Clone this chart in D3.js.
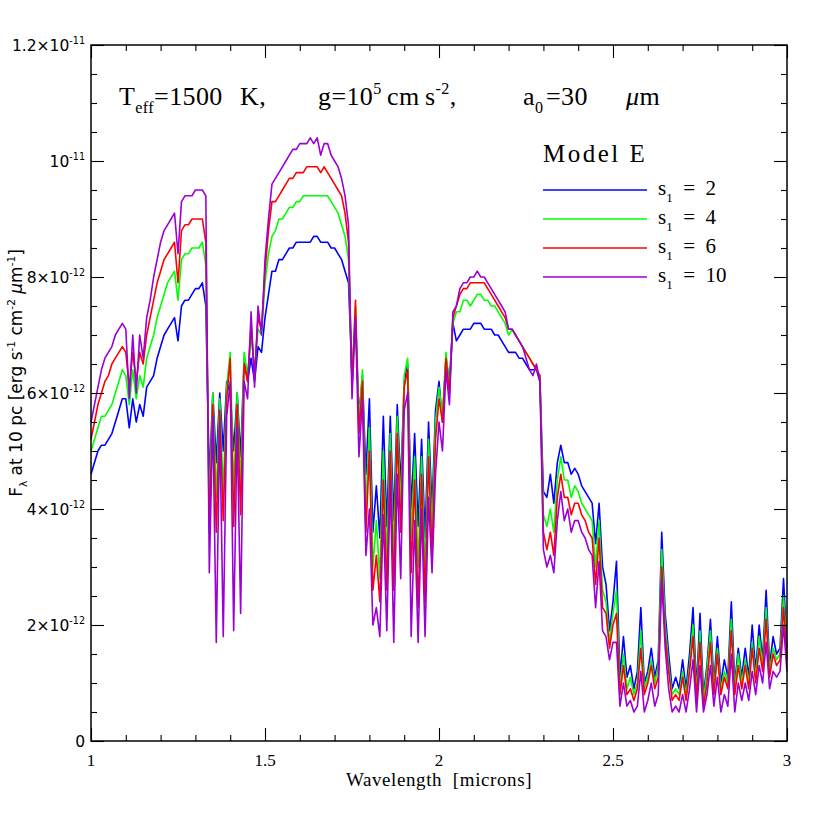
<!DOCTYPE html>
<html>
<head>
<meta charset="utf-8">
<script src="https://cdn.jsdelivr.net/npm/d3@7"></script>
<style>
  body { margin: 0; background: #fff; }
  text { white-space: pre; }
</style>
</head>
<body>
<svg id="chart"></svg>
<script>
// wavelength grid (microns)
let wavelength = [
  1.00,1.01,1.02,1.03,1.04,1.05,1.06,1.07,1.08,1.09,
  1.10,1.11,1.12,1.13,1.14,1.15,1.16,1.17,1.18,1.19,
  1.20,1.21,1.22,1.23,1.24,1.25,1.26,1.27,1.28,1.29,
  1.30,1.31,1.32,1.33,1.34,1.35,1.36,1.37,1.38,1.39,
  1.40,1.41,1.42,1.43,1.44,1.45,1.46,1.47,1.48,1.49,
  1.50,1.51,1.52,1.53,1.54,1.55,1.56,1.57,1.58,1.59,
  1.60,1.61,1.62,1.63,1.64,1.65,1.66,1.67,1.68,1.69,
  1.70,1.71,1.72,1.73,1.74,1.75,1.76,1.77,1.78,1.79,
  1.80,1.81,1.82,1.83,1.84,1.85,1.86,1.87,1.88,1.89,
  1.90,1.91,1.92,1.93,1.94,1.95,1.96,1.97,1.98,1.99,
  2.00,2.01,2.02,2.03,2.04,2.05,2.06,2.07,2.08,2.09,
  2.10,2.11,2.12,2.13,2.14,2.15,2.16,2.17,2.18,2.19,
  2.20,2.21,2.22,2.23,2.24,2.25,2.26,2.27,2.28,2.29,
  2.30,2.31,2.32,2.33,2.34,2.35,2.36,2.37,2.38,2.39,
  2.40,2.41,2.42,2.43,2.44,2.45,2.46,2.47,2.48,2.49,
  2.50,2.51,2.52,2.53,2.54,2.55,2.56,2.57,2.58,2.59,
  2.60,2.61,2.62,2.63,2.64,2.65,2.66,2.67,2.68,2.69,
  2.70,2.71,2.72,2.73,2.74,2.75,2.76,2.77,2.78,2.79,
  2.80,2.81,2.82,2.83,2.84,2.85,2.86,2.87,2.88,2.89,
  2.90,2.91,2.92,2.93,2.94,2.95,2.96,2.97,2.98,2.99,
  3.00
]

// flux, in units of 1e-12 erg s^-1 cm^-2 um^-1
let fluxS2 = [
  4.6,4.8,5.0,5.1,5.1,5.2,5.3,5.5,5.7,5.9,
  5.9,5.4,5.9,5.5,5.8,5.6,6.1,6.2,6.3,6.6,
  6.8,7.0,7.1,7.2,7.3,6.9,7.5,7.6,7.6,7.7,
  7.8,7.8,7.9,7.5,4.5,6.0,4.8,6.0,5.0,6.2,
  6.0,5.0,6.0,4.9,6.6,6.2,6.6,6.2,6.8,6.7,
  7.3,7.7,8.1,8.1,8.3,8.3,8.4,8.5,8.5,8.6,
  8.6,8.6,8.6,8.6,8.7,8.7,8.6,8.6,8.6,8.5,
  8.5,8.4,8.3,8.1,7.9,6.3,7.3,5.6,6.3,4.6,
  5.9,3.6,4.4,3.5,5.6,3.7,5.6,3.8,5.8,4.4,
  6.2,6.5,4.0,5.3,3.7,5.2,3.5,5.5,4.0,5.7,
  6.2,5.5,6.6,6.2,7.2,6.9,7.0,7.1,7.1,7.1,
  7.2,7.2,7.2,7.1,7.1,7.1,7.0,7.0,6.9,6.8,
  6.7,6.7,6.7,6.6,6.6,6.5,6.4,6.4,6.4,6.2,
  4.3,4.2,4.6,4.1,4.8,5.1,4.8,4.8,4.6,4.7,
  4.6,4.4,4.3,4.2,4.1,3.4,4.1,3.0,2.7,1.9,
  2.4,3.1,1.1,1.8,1.1,1.3,0.9,1.2,2.3,1.0,
  1.2,1.6,1.1,1.4,3.6,2.2,1.5,0.9,1.1,0.9,
  1.4,0.9,1.5,2.3,0.9,2.2,0.8,1.3,2.1,1.0,
  1.8,1.0,1.4,1.1,2.4,1.0,1.6,1.1,1.6,1.1,
  2.0,1.2,2.0,1.4,2.6,1.3,1.8,1.5,1.6,2.8,
  1.6
]

let fluxS4 = [
  5.0,5.2,5.4,5.6,5.6,5.7,5.8,6.0,6.2,6.4,
  6.3,5.8,6.4,5.9,6.3,6.1,6.6,6.8,7.0,7.3,
  7.5,7.7,7.9,8.0,8.1,7.6,8.3,8.4,8.4,8.5,
  8.5,8.5,8.6,8.2,4.0,6.0,4.2,5.9,4.3,6.1,
  6.7,4.3,6.0,4.4,6.7,6.3,7.0,6.4,7.1,7.0,
  7.9,8.4,8.7,8.8,9.0,9.0,9.1,9.2,9.2,9.3,
  9.3,9.4,9.4,9.4,9.4,9.4,9.4,9.4,9.4,9.3,
  9.2,9.1,8.9,8.7,8.3,6.2,7.5,5.5,6.4,4.0,
  5.4,3.0,3.8,2.8,5.0,3.1,5.3,3.2,5.6,4.0,
  6.3,6.6,3.5,4.9,3.0,4.9,2.9,5.2,3.6,5.5,
  6.1,5.6,6.7,6.1,7.2,7.4,7.4,7.6,7.6,7.5,
  7.6,7.7,7.7,7.6,7.6,7.5,7.5,7.4,7.3,7.2,
  7.0,7.1,7.0,6.9,6.8,6.7,6.6,6.5,6.4,6.3,
  3.9,3.7,4.0,3.6,4.5,4.9,4.5,4.5,4.2,4.4,
  4.3,4.1,4.0,3.9,3.8,3.0,3.8,2.6,2.4,1.7,
  2.2,2.6,0.9,1.5,0.9,1.1,0.8,1.0,1.9,0.9,
  1.1,1.4,1.0,1.3,3.3,2.0,1.3,0.8,0.9,0.8,
  1.2,0.8,1.3,2.0,0.8,1.9,0.7,1.2,1.9,0.9,
  1.6,0.9,1.2,1.0,2.1,0.9,1.5,1.0,1.4,1.0,
  1.7,1.1,1.8,1.3,2.3,1.2,1.6,1.4,1.5,2.5,
  1.5
]

let fluxS6 = [
  5.2,5.5,5.8,6.0,6.2,6.3,6.5,6.6,6.7,6.8,
  6.7,6.1,6.7,6.2,6.7,6.5,7.0,7.3,7.6,7.9,
  8.1,8.3,8.4,8.5,8.6,7.9,8.8,8.9,8.9,9.0,
  9.0,9.0,9.0,8.6,3.6,5.8,3.6,5.7,3.8,5.9,
  6.6,3.7,5.8,3.9,6.5,6.2,7.2,6.3,7.3,7.1,
  8.1,8.8,9.3,9.3,9.4,9.5,9.6,9.7,9.7,9.8,
  9.8,9.8,9.9,9.9,9.9,9.9,9.8,9.9,9.8,9.7,
  9.6,9.5,9.4,9.1,8.6,6.1,7.6,5.3,6.2,3.6,
  5.0,2.6,3.2,2.4,4.5,2.6,5.0,2.6,5.3,3.6,
  6.1,6.4,2.9,4.5,2.3,4.6,2.4,4.9,3.2,5.2,
  5.9,5.5,6.6,6.0,7.3,7.5,7.7,7.8,7.8,7.9,
  7.9,7.9,7.9,7.9,7.8,7.7,7.6,7.5,7.4,7.3,
  7.1,7.1,7.0,6.9,6.8,6.7,6.6,6.5,6.4,6.3,
  3.6,3.3,3.6,3.2,4.2,4.6,4.2,4.2,3.9,4.1,
  4.1,3.9,3.8,3.6,3.5,2.7,3.5,2.3,2.2,1.6,
  2.0,2.2,0.8,1.3,0.8,0.9,0.7,0.9,1.6,0.8,
  1.0,1.3,0.9,1.1,3.0,1.8,1.2,0.7,0.8,0.7,
  1.1,0.7,1.2,1.8,0.7,1.7,0.6,1.0,1.7,0.8,
  1.5,0.8,1.1,0.9,1.9,0.8,1.3,0.9,1.3,0.9,
  1.6,1.0,1.6,1.2,2.1,1.1,1.5,1.3,1.4,2.3,
  1.4
]

let fluxS10 = [
  5.5,5.8,6.1,6.4,6.6,6.7,6.8,7.0,7.1,7.2,
  7.1,5.9,7.0,6.0,7.0,6.6,7.3,7.6,8.0,8.3,
  8.6,8.8,8.9,9.0,9.1,8.4,9.3,9.4,9.4,9.4,
  9.5,9.5,9.5,9.4,2.9,5.6,1.7,5.5,1.8,5.6,
  6.2,1.9,5.4,2.2,6.2,5.9,7.4,6.1,7.5,7.0,
  8.3,9.0,9.6,9.7,9.8,9.9,10.0,10.1,10.2,10.2,
  10.3,10.3,10.3,10.4,10.3,10.4,10.1,10.3,10.3,10.1,
  10.0,9.9,9.7,9.4,8.9,5.9,7.3,4.9,5.9,3.2,
  4.0,2.0,2.3,1.8,3.9,1.9,4.5,1.7,4.6,2.8,
  5.7,6.0,1.8,3.8,1.7,4.0,1.8,4.2,2.9,4.6,
  5.5,5.0,6.4,5.8,7.4,7.5,7.8,7.9,7.9,8.0,
  8.0,8.1,8.0,8.0,7.9,7.8,7.7,7.6,7.5,7.4,
  7.1,7.1,7.0,6.9,6.8,6.6,6.4,6.3,6.5,6.2,
  3.3,3.0,3.2,2.9,3.8,4.3,3.8,4.0,3.6,3.8,
  3.8,3.6,3.5,3.3,3.2,2.3,3.1,1.9,1.8,1.4,
  1.7,1.7,0.6,1.0,0.6,0.7,0.5,0.6,1.2,0.5,
  0.7,1.0,0.6,0.8,2.8,1.6,0.9,0.5,0.6,0.5,
  0.8,0.5,0.9,1.4,0.5,1.3,0.5,0.8,1.3,0.6,
  1.1,0.5,0.8,0.6,1.5,0.5,1.0,0.7,1.0,0.7,
  1.2,0.8,1.3,1.0,1.7,0.9,1.2,1.1,1.2,2.0,
  1.2
]

let seriesNames = ['2', '4', '6', '10']
let seriesColors = ['#0000ff', '#00ff00', '#ff0000', '#9b00d6']

let xMajorTicks = [1, 1.5, 2, 2.5, 3]
let xMinorTicks = [1.1,1.2,1.3,1.4,1.6,1.7,1.8,1.9,2.1,2.2,2.3,2.4,2.6,2.7,2.8,2.9]
let xTickLabels = ['1', '1.5', '2', '2.5', '3']
let yMajorTicks = [0, 2, 4, 6, 8, 10, 12]
let yMinorTicks = [0.5,1,1.5,2.5,3,3.5,4.5,5,5.5,6.5,7,7.5,8.5,9,9.5,10.5,11,11.5]
// [mantissa, power of ten]
let yTickLabels = [['0', ''], ['2', '-12'], ['4', '-12'], ['6', '-12'], ['8', '-12'], ['', '-11'], ['1.2', '-11']]

let width = 830
let height = 830
let plotLeft = 91
let plotRight = 787
let plotTop = 45
let plotBottom = 741

let serif = "'Liberation Serif', 'DejaVu Serif', serif"
let sans = "'DejaVu Sans', 'Liberation Sans', sans-serif"

let svg = d3.select('#chart')
  .attr('width', width)
  .attr('height', height)

let xScale = d3.scaleLinear().domain([1, 3]).range([plotLeft, plotRight])
let yScale = d3.scaleLinear().domain([0, 12]).range([plotBottom, plotTop])

// text with sub/superscripts: parts = [{t, sub?, sup?, x?, it?}]
let richText = (g, x, y, parts, size, family, anchor) => {
  let t = g.append('text')
    .attr('x', x)
    .attr('y', y)
    .attr('font-size', size)
    .attr('font-family', family)
    .attr('text-anchor', anchor || 'start')
    .attr('fill', '#000')
  let shift = 0
  parts.forEach(p => {
    let target = p.sub ? size * 0.32 : (p.sup ? -size * 0.42 : 0)
    let ts = t.append('tspan')
      .attr('dy', target - shift)
      .attr('font-size', (p.sub || p.sup) ? size * 0.62 : size)
      .text(p.t)
    if (p.x !== undefined) ts.attr('x', p.x)
    if (p.it) ts.attr('font-style', 'italic')
    shift = target
  })
  return t
}

let drawSpectra = () => {
  let line = d3.line()
    .x((d, i) => xScale(wavelength[i]))
    .y(d => yScale(d))
  let allSeries = [fluxS2, fluxS4, fluxS6, fluxS10]
  svg.append('g')
    .selectAll('path')
    .data(allSeries)
    .enter()
    .append('path')
    .attr('d', d => line(d))
    .attr('fill', 'none')
    .attr('stroke', (d, i) => seriesColors[i])
    .attr('stroke-width', 1.6)
    .attr('stroke-linejoin', 'round')
}

let drawAxes = () => {
  let major = 13
  let minor = 6
  let addAxis = (axis, tr) => {
    let g = svg.append('g').attr('transform', tr).call(axis)
    g.select('.domain').remove()
    g.selectAll('line').attr('stroke', '#000').attr('stroke-width', 1.1)
  }
  addAxis(d3.axisBottom(xScale).tickValues(xMajorTicks).tickSize(-major).tickFormat(''), 'translate(0,' + plotBottom + ')')
  addAxis(d3.axisBottom(xScale).tickValues(xMinorTicks).tickSize(-minor).tickFormat(''), 'translate(0,' + plotBottom + ')')
  addAxis(d3.axisTop(xScale).tickValues(xMajorTicks).tickSize(-major).tickFormat(''), 'translate(0,' + plotTop + ')')
  addAxis(d3.axisTop(xScale).tickValues(xMinorTicks).tickSize(-minor).tickFormat(''), 'translate(0,' + plotTop + ')')
  addAxis(d3.axisLeft(yScale).tickValues(yMajorTicks).tickSize(-major).tickFormat(''), 'translate(' + plotLeft + ',0)')
  addAxis(d3.axisLeft(yScale).tickValues(yMinorTicks).tickSize(-minor).tickFormat(''), 'translate(' + plotLeft + ',0)')
  addAxis(d3.axisRight(yScale).tickValues(yMajorTicks).tickSize(-major).tickFormat(''), 'translate(' + plotRight + ',0)')
  addAxis(d3.axisRight(yScale).tickValues(yMinorTicks).tickSize(-minor).tickFormat(''), 'translate(' + plotRight + ',0)')

  svg.append('rect')
    .attr('x', plotLeft)
    .attr('y', plotTop)
    .attr('width', plotRight - plotLeft)
    .attr('height', plotBottom - plotTop)
    .attr('fill', 'none')
    .attr('stroke', '#000')
    .attr('stroke-width', 1.5)

  // x tick labels
  svg.append('g')
    .selectAll('text')
    .data(xMajorTicks)
    .enter()
    .append('text')
    .attr('x', d => xScale(d))
    .attr('y', plotBottom + 25)
    .attr('text-anchor', 'middle')
    .attr('font-family', serif)
    .attr('font-size', 17)
    .text((d, i) => xTickLabels[i])

  // y tick labels
  let yl = svg.append('g')
  yMajorTicks.forEach((v, i) => {
    let m = yTickLabels[i][0]
    let p = yTickLabels[i][1]
    let parts = []
    if (p === '') parts = [{ t: m }]
    else if (m === '') parts = [{ t: '10' }, { t: p, sup: true }]
    else parts = [{ t: m + '\u00d710' }, { t: p, sup: true }]
    richText(yl, plotLeft - 6, yScale(v) + 6, parts, 15.5, sans, 'end')
  })

  // axis titles
  svg.append('text')
    .attr('x', (plotLeft + plotRight) / 2)
    .attr('y', plotBottom + 45)
    .attr('text-anchor', 'middle')
    .attr('font-family', serif)
    .attr('font-size', 19)
    .attr('letter-spacing', 0.6)
    .text('Wavelength  [microns]')

  let yTitle = svg.append('g').attr('transform', 'translate(22,373) rotate(-90)')
  richText(yTitle, 0, 0, [
    { t: 'F' }, { t: '\u03bb', sub: true }, { t: ' at 10 pc [erg s' }, { t: '-1', sup: true },
    { t: ' cm' }, { t: '-2', sup: true }, { t: ' ' }, { t: '\u03bc', it: true }, { t: 'm' }, { t: '-1', sup: true }, { t: ']' }
  ], 17, sans, 'middle')
}

let drawAnnotations = () => {
  let g = svg.append('g')
  richText(g, 119, 105, [
    { t: 'T' }, { t: 'eff', sub: true }, { t: '=1500' }, { t: 'K,', x: 240 },
    { t: 'g=10', x: 318 }, { t: '5', sup: true }, { t: 'cm', x: 387 }, { t: 's', x: 425 }, { t: '-2', sup: true }, { t: ',' },
    { t: 'a', x: 523 }, { t: '0', sub: true }, { t: '=30', x: 546 }, { t: '\u03bc', x: 626, it: true }, { t: 'm' }
  ], 26, serif, 'start').attr('letter-spacing', 0.4)

  richText(g, 543, 162, [{ t: 'Model E' }], 25, serif, 'start').attr('letter-spacing', 2.5)

  let legendY = [190, 219, 248, 277]
  seriesNames.forEach((name, i) => {
    g.append('line')
      .attr('x1', 543)
      .attr('x2', 647)
      .attr('y1', legendY[i])
      .attr('y2', legendY[i])
      .attr('stroke', seriesColors[i])
      .attr('stroke-width', 1.7)
    richText(g, 658, legendY[i] + 5, [{ t: 's' }, { t: '1', sub: true }, { t: '  =  ' + name }], 21, serif, 'start')
  })
}

drawSpectra()
drawAxes()
drawAnnotations()
</script>
</body>
</html>
